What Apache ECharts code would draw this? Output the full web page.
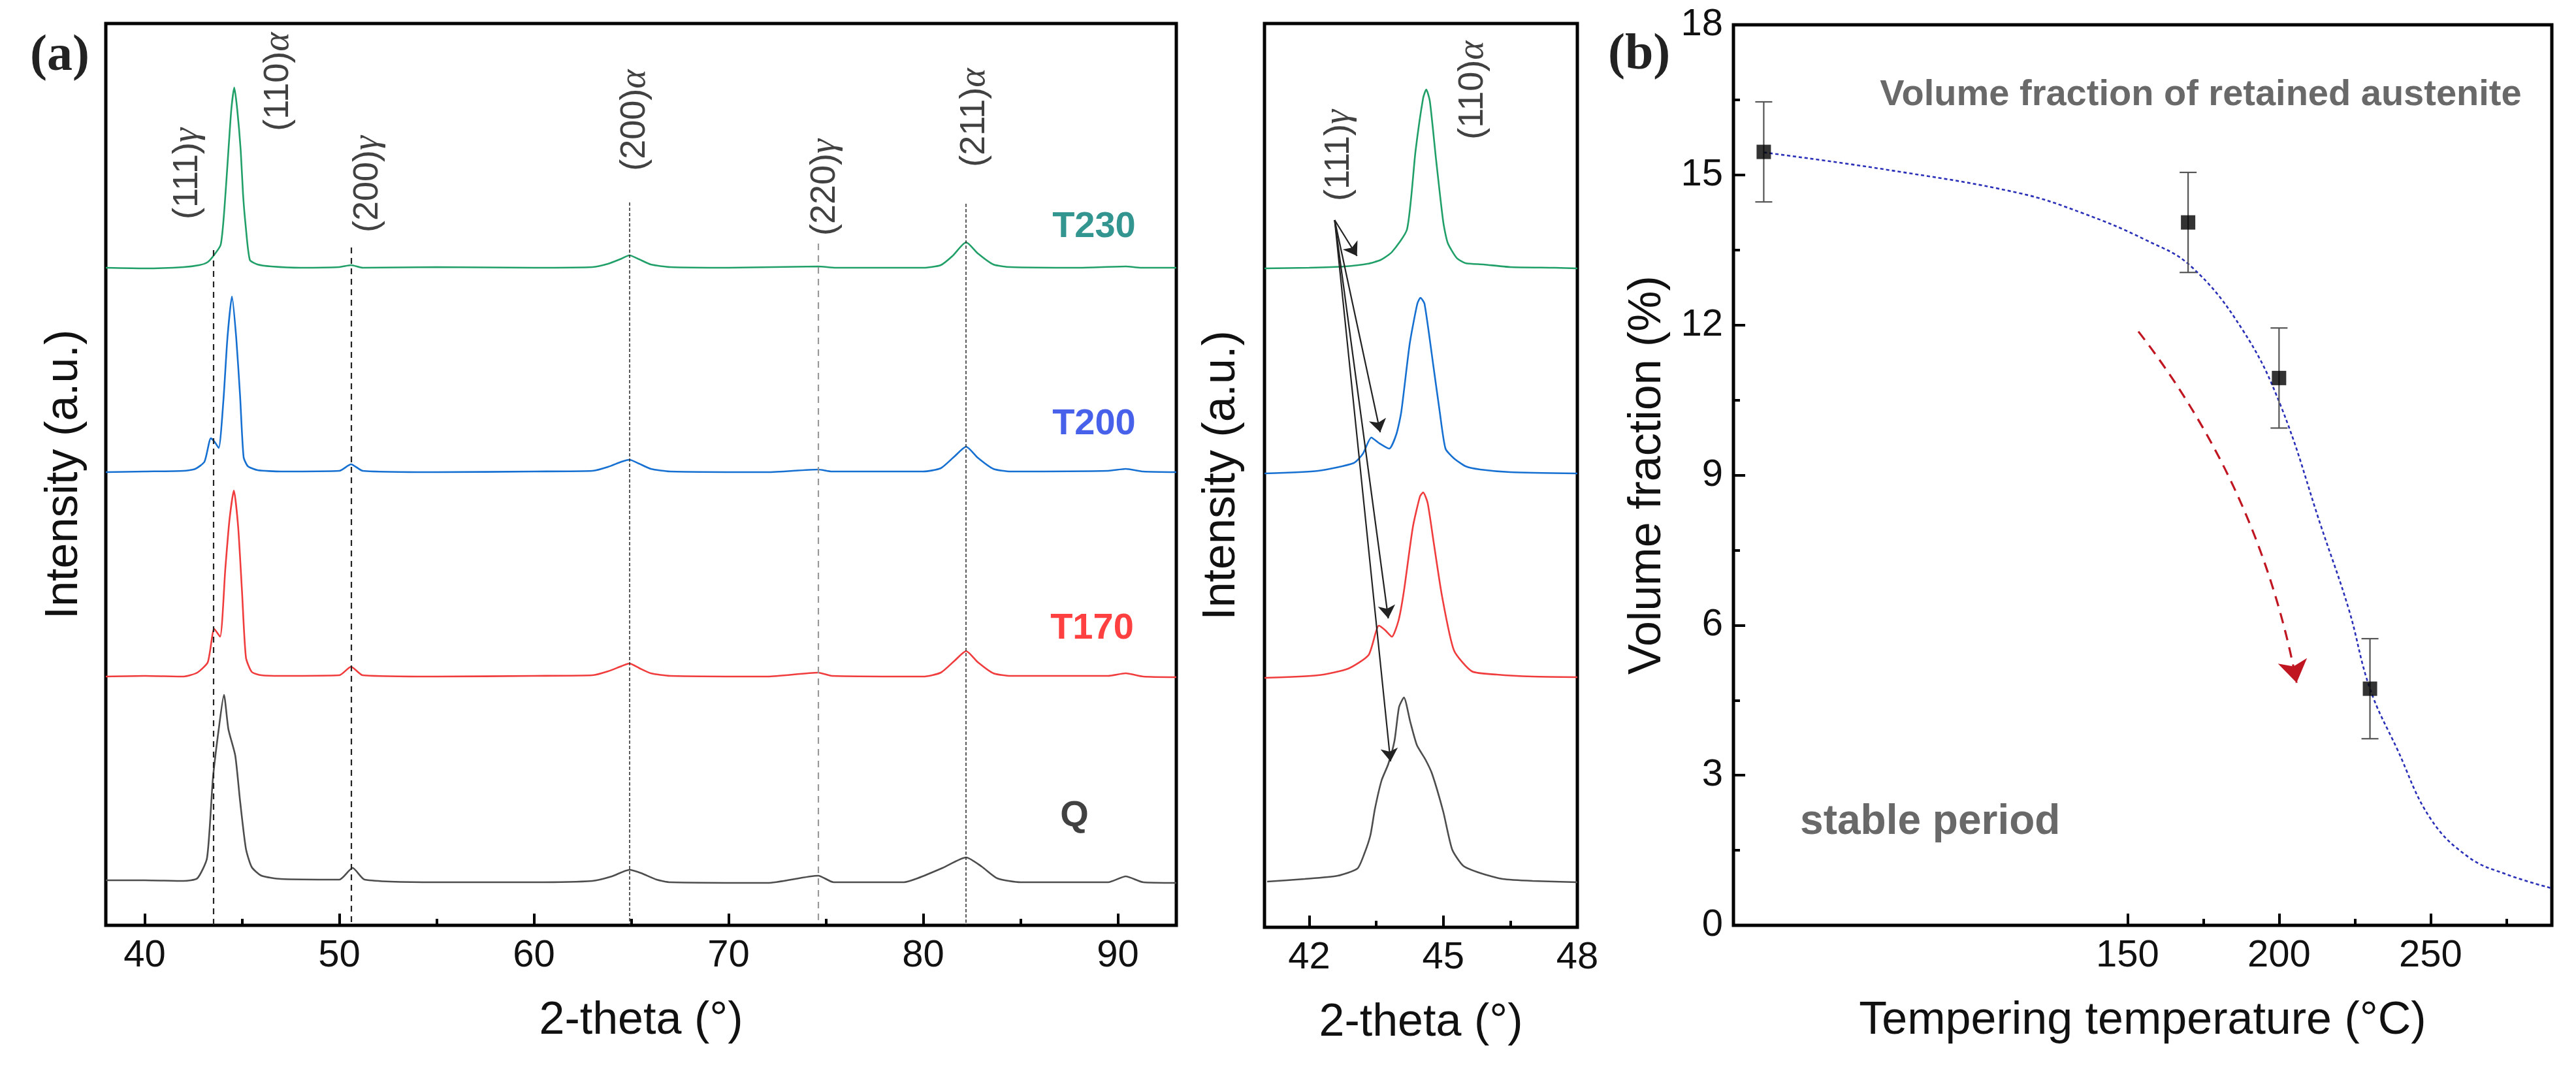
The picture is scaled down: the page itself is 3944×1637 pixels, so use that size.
<!DOCTYPE html>
<html>
<head>
<meta charset="utf-8">
<title>XRD and retained austenite</title>
<script src="https://cdn.jsdelivr.net/npm/echarts@6/dist/echarts.min.js"></script>
<style>
  html, body { margin: 0; padding: 0; background: #fff; }
  #chart { width: 3944px; height: 1637px; }
</style>
</head>
<body>
<div id="chart"></div>
<script>
// ---- Panel (a): full XRD patterns, stacked (2-theta, intensity a.u.) ----
const patternQ = [[38,69],[40,69],[42,68],[42.7,72],[43.2,103],[43.5,224],[43.8,300],[44.07,353],[44.3,300],[44.65,260],[44.9,190],[45.2,117],[45.5,89],[46,76],[47,71],[50,70],[50.68,88],[51.3,70],[55,66],[60,66],[63,68],[64,75],[64.9,85],[65.5,80],[66.3,70],[67,66],[72,65],[74.6,76],[75.4,66],[79,66],[79.7,72],[81,88],[82.2,104],[83,90],[83.8,72],[85,66],[89.5,66],[90.4,75],[91.3,66],[93,65]];
const patternT170 = [[38,381],[40,382],[42,381],[42.7,387],[43.24,403],[43.57,454],[43.87,442],[44.14,546],[44.35,620],[44.58,666],[44.8,610],[45.0,510],[45.2,410],[45.5,388],[46,383],[47,382],[50,383],[50.6,396],[51.2,383],[55,381],[60,382],[63,383],[63.8,389],[64.5,397],[64.9,401],[65.4,394],[66,386],[67,382],[72,381],[74.6,387],[75.3,382],[80,381],[80.9,387],[81.6,405],[82.2,420],[82.8,403],[83.6,386],[84.5,382],[89.5,382],[90.4,386],[91.3,381],[93,380]];
const patternT200 = [[38,694],[40,695],[42,696],[42.6,699],[43.07,710],[43.4,746],[43.6,740],[43.8,731],[44.04,803],[44.25,900],[44.48,963],[44.7,900],[44.9,810],[45.08,717],[45.3,703],[45.8,697],[47,695],[50,696],[50.6,706],[51.2,696],[55,694],[60,695],[63,696],[63.8,702],[64.5,710],[64.9,713],[65.4,707],[66,699],[67,695],[72,694],[74.6,698],[75.3,695],[80,695],[80.9,700],[81.6,718],[82.2,733],[82.8,716],[83.6,699],[84.5,695],[89.5,696],[90.4,699],[91.3,695],[93,694]];
const patternT230 = [[38,1007],[40,1006],[42,1008],[42.8,1011],[43.2,1015],[43.47,1023],[43.9,1042],[44.1,1100],[44.3,1187],[44.45,1250],[44.6,1283],[44.75,1250],[44.93,1187],[45.05,1120],[45.18,1073],[45.4,1019],[45.8,1012],[46.5,1009],[48,1007],[50,1008],[50.6,1011],[51.2,1007],[55,1008],[60,1007],[63,1008],[63.8,1013],[64.5,1021],[64.9,1026],[65.4,1020],[66,1012],[67,1008],[70,1007],[74.6,1009],[75.5,1007],[80,1007],[80.9,1011],[81.5,1025],[82.2,1046],[82.8,1029],[83.6,1012],[84.5,1008],[88,1007],[90.4,1009],[91.2,1007],[93,1007]];

// reflection positions (2-theta) and the intensity where their guide line starts
const peakPos = [43.54, 50.6, 64.9, 74.6, 82.2];
const peakLineTop = [1034, 1038, 1107, 1044, 1105];
const peakHkl = [
  { hkl: '(111)', phase: 'γ', x: 42.19, y: 1151 },
  { hkl: '(110)', phase: 'α', x: 46.86, y: 1292 },
  { hkl: '(200)', phase: 'γ', x: 51.46, y: 1135 },
  { hkl: '(200)', phase: 'α', x: 65.18, y: 1233 },
  { hkl: '(220)', phase: 'γ', x: 74.95, y: 1130 },
  { hkl: '(211)', phase: 'α', x: 82.63, y: 1237 }
];
const sampleNames = ['T230', 'T200', 'T170', 'Q'];
const sampleLabelAt = [[88.77, 1069], [88.77, 767], [88.67, 454], [87.77, 167]];
const sampleColors = ['#007a74', '#1a3ae6', '#ff1010', '#111111'];

// ---- Inset: 41-48 deg detail ----
const insetQ = [[41.06,70],[41.9,74],[42.64,79],[43.08,90],[43.23,112],[43.37,141],[43.47,181],[43.62,225],[43.77,250],[43.91,286],[44.01,337],[44.12,352],[44.26,315],[44.41,279],[44.6,257],[44.75,235],[45.0,177],[45.2,119],[45.45,94],[45.83,83],[46.33,74],[47,71],[48,69]];
const insetT170 = [[41,382],[42.2,386],[42.87,396],[43.33,417],[43.56,462],[43.7,455],[43.85,445],[44.0,470],[44.12,515],[44.32,613],[44.48,660],[44.55,666],[44.65,650],[44.78,592],[44.97,508],[45.24,424],[45.64,392],[46.2,387],[47,384],[48,383]];
const insetT200 = [[41,695],[42.2,699],[43.0,711],[43.2,725],[43.39,750],[43.55,742],[43.79,733],[43.95,755],[44.06,789],[44.25,894],[44.42,955],[44.49,964],[44.58,955],[44.78,859],[44.92,790],[45.05,733],[45.24,718],[45.5,706],[45.83,701],[46.5,697],[48,695]];
const insetT230 = [[41,1009],[42,1010],[42.8,1012],[43.3,1016],[43.6,1022],[43.85,1034],[44.19,1069],[44.38,1189],[44.55,1270],[44.62,1283],[44.7,1265],[44.84,1175],[45.0,1080],[45.1,1048],[45.3,1025],[45.5,1017],[45.9,1015],[46.5,1011],[47.5,1010],[48,1009]];
const insetArrowFrom = [42.57, 1083];
const insetArrowTo = [[43.07, 1028], [43.59, 758], [43.77, 473], [43.82, 254]];
const insetHkl = [
  { hkl: '(111)', phase: 'γ', x: 42.67, y: 1182 },
  { hkl: '(110)', phase: 'α', x: 45.67, y: 1282 }
];

// ---- Panel (b): retained austenite ----
const temperC = [30, 170, 200, 230];
const austenite = [15.46, 14.05, 10.94, 4.73];
const austeniteErr = [1.0, 1.0, 1.0, 1.0];
const fitTemp = [30, 71, 114, 135, 156, 171, 188, 200.6, 214, 223, 230, 239, 250, 262.6, 275, 290];
const fitValue = [15.45, 15.1, 14.64, 14.24, 13.7, 13.17, 11.9, 10.38, 7.95, 6.32, 4.73, 3.52, 2.13, 1.36, 1.02, 0.74];
const trendFrom = [153.6, 11.87];
const trendTo = [205.8, 4.85];

const SANS = 'Liberation Sans, Arial, sans-serif';
const SERIF = 'Liberation Serif, Times New Roman, serif';
const lineColors = { Q: '#4d4d4d', T170: '#f03c3c', T200: '#1670d2', T230: '#20a068' };

const chart = echarts.init(document.getElementById('chart'), null, { renderer: 'canvas' });

function xrdLine(name, data, xi, yi) {
  return {
    type: 'line', name: name, xAxisIndex: xi, yAxisIndex: yi, data: data,
    symbol: 'none', smooth: 0.2, z: 3,
    lineStyle: { color: lineColors[name], width: 2.6 }
  };
}

function hklLabels(list, xi, yi) {
  return {
    type: 'scatter', xAxisIndex: xi, yAxisIndex: yi, symbolSize: 0, silent: true, z: 5,
    data: list.map(d => ({ value: [d.x, d.y], hkl: d.hkl, phase: d.phase })),
    label: {
      show: true, position: 'inside', rotate: 90,
      formatter: p => '{n|' + p.data.hkl + '}{g|' + p.data.phase + '}',
      rich: {
        n: { fontFamily: SANS, fontSize: 54, color: '#111' },
        g: { fontFamily: SERIF, fontStyle: 'italic', fontSize: 56, color: '#111' }
      }
    }
  };
}

const guideStyles = [
  { color: '#222', width: 2.2, type: [9, 7] },
  { color: '#222', width: 2.2, type: [9, 7] },
  { color: '#333', width: 1.6, type: [5, 3] },
  { color: '#999', width: 2.2, type: [10, 8] },
  { color: '#333', width: 1.6, type: [5, 3] }
];

const hiddenY = (grid, name, gap) => ({
  type: 'value', gridIndex: grid, min: 0, max: grid === 1 ? 1384 : 1381,
  name: name, nameLocation: 'middle', nameGap: gap, nameRotate: 90,
  nameTextStyle: { fontFamily: SANS, fontSize: 70, color: '#111' },
  axisLine: { show: false }, axisTick: { show: false }, axisLabel: { show: false }, splitLine: { show: false }
});

const majorX = (grid, min, max, ticks, name) => ({
  type: 'value', gridIndex: grid, min: min, max: max, position: 'bottom',
  name: name, nameLocation: 'middle', nameGap: 112,
  nameTextStyle: { fontFamily: SANS, fontSize: 70, color: '#111' },
  axisLine: { show: false },
  axisTick: { show: true, inside: true, length: 18, customValues: ticks, lineStyle: { color: '#000', width: 4 } },
  axisLabel: { show: true, customValues: ticks, margin: 18, fontFamily: SANS, fontSize: 58, color: '#111' },
  splitLine: { show: false }
});

const minorX = (grid, min, max, ticks) => ({
  type: 'value', gridIndex: grid, min: min, max: max, position: 'bottom',
  axisLine: { show: false },
  axisTick: { show: true, inside: true, length: 10, customValues: ticks, lineStyle: { color: '#000', width: 4 } },
  axisLabel: { show: false }, splitLine: { show: false }
});

const frame = { show: true, borderColor: '#000', borderWidth: 5, backgroundColor: 'transparent' };

const option = {
  backgroundColor: '#fff',
  animation: false,
  grid: [
    Object.assign({ left: 162, top: 36, width: 1639, height: 1381 }, frame),
    Object.assign({ left: 1936, top: 36, width: 479, height: 1384 }, frame),
    Object.assign({ left: 2654, top: 38, width: 1253, height: 1379 }, frame)
  ],
  xAxis: [
    majorX(0, 38, 93, [40, 50, 60, 70, 80, 90], '2-theta (°)'),
    minorX(0, 38, 93, [45, 55, 65, 75, 85]),
    majorX(1, 41, 48, [42, 45, 48], '2-theta (°)'),
    minorX(1, 41, 48, [43.5, 46.5]),
    majorX(2, 20, 290, [150, 200, 250], 'Tempering temperature (°C)'),
    minorX(2, 20, 290, [175, 225, 275])
  ],
  yAxis: [
    hiddenY(0, 'Intensity (a.u.)', 28),
    hiddenY(1, 'Intensity (a.u.)', 30),
    {
      type: 'value', gridIndex: 2, min: 0, max: 18, interval: 3,
      name: 'Volume fraction (%)', nameLocation: 'middle', nameGap: 96, nameRotate: 90,
      nameTextStyle: { fontFamily: SANS, fontSize: 70, color: '#111' },
      axisLine: { show: false },
      axisTick: { show: true, inside: true, length: 18, lineStyle: { color: '#000', width: 4 } },
      minorTick: { show: true, splitNumber: 2, length: 10, lineStyle: { color: '#000', width: 4 } },
      axisLabel: { margin: 16, fontFamily: SANS, fontSize: 58, color: '#111' },
      splitLine: { show: false }
    }
  ],
  graphic: [
    { type: 'text', left: 46, top: 48, style: { text: '(a)', font: 'bold 78px ' + SERIF, fill: '#222' } },
    { type: 'text', left: 2462, top: 46, style: { text: '(b)', font: 'bold 78px ' + SERIF, fill: '#222' } }
  ],
  series: [
    // panel (a)
    Object.assign(xrdLine('Q', patternQ, 0, 0), {
      markLine: {
        silent: true, symbol: 'none', label: { show: false },
        data: peakPos.map((x, i) => [
          { coord: [x, peakLineTop[i]], lineStyle: guideStyles[i] },
          { coord: [x, 0] }
        ])
      }
    }),
    xrdLine('T170', patternT170, 0, 0),
    xrdLine('T200', patternT200, 0, 0),
    xrdLine('T230', patternT230, 0, 0),
    hklLabels(peakHkl, 0, 0),
    {
      type: 'scatter', xAxisIndex: 0, yAxisIndex: 0, symbolSize: 0, silent: true, z: 5,
      data: sampleNames.map((n, i) => ({ name: n, value: sampleLabelAt[i], label: { color: sampleColors[i] } })),
      label: { show: true, position: 'inside', formatter: '{b}', fontFamily: SANS, fontWeight: 'bold', fontSize: 56 }
    },
    // inset
    xrdLine('Q', insetQ, 2, 1),
    xrdLine('T170', insetT170, 2, 1),
    xrdLine('T200', insetT200, 2, 1),
    xrdLine('T230', insetT230, 2, 1),
    hklLabels(insetHkl, 2, 1),
    {
      type: 'lines', coordinateSystem: 'cartesian2d', xAxisIndex: 2, yAxisIndex: 1, z: 6, silent: true,
      symbol: ['none', 'arrow'], symbolSize: [0, 20],
      lineStyle: { color: '#222', width: 2.2, opacity: 1 },
      data: insetArrowTo.map(t => ({ coords: [insetArrowFrom, t] }))
    },
    // panel (b)
    {
      type: 'line', xAxisIndex: 4, yAxisIndex: 2, data: fitTemp.map((t, i) => [t, fitValue[i]]),
      symbol: 'none', smooth: 0.4, z: 3,
      lineStyle: { color: '#2a2fb8', width: 2.6, type: [5, 4] }
    },
    {
      type: 'lines', coordinateSystem: 'cartesian2d', xAxisIndex: 4, yAxisIndex: 2, z: 4, silent: true,
      symbol: ['none', 'arrow'], symbolSize: [0, 34],
      lineStyle: { color: '#c01622', width: 3.2, type: [16, 11], opacity: 1, curveness: 0.12 },
      itemStyle: { color: '#e01010' },
      data: [{ coords: [trendFrom, trendTo] }]
    },
    {
      type: 'custom', xAxisIndex: 4, yAxisIndex: 2, z: 4, silent: true,
      data: temperC.map((t, i) => [t, austenite[i] - austeniteErr[i], austenite[i] + austeniteErr[i]]),
      renderItem: (params, api) => {
        const lo = api.coord([api.value(0), api.value(1)]);
        const hi = api.coord([api.value(0), api.value(2)]);
        const w = 13;
        const st = { stroke: '#555', lineWidth: 2.2 };
        return {
          type: 'group', children: [
            { type: 'line', shape: { x1: hi[0], y1: hi[1], x2: lo[0], y2: lo[1] }, style: st },
            { type: 'line', shape: { x1: hi[0] - w, y1: hi[1], x2: hi[0] + w, y2: hi[1] }, style: st },
            { type: 'line', shape: { x1: lo[0] - w, y1: lo[1], x2: lo[0] + w, y2: lo[1] }, style: st }
          ]
        };
      }
    },
    {
      type: 'scatter', xAxisIndex: 4, yAxisIndex: 2, z: 5,
      data: temperC.map((t, i) => [t, austenite[i]]),
      symbol: 'rect', symbolSize: 22, itemStyle: { color: '#000' }
    },
    {
      type: 'scatter', xAxisIndex: 4, yAxisIndex: 2, symbolSize: 0, silent: true, z: 5,
      data: [
        { value: [280, 16.6], name: 'Volume fraction of retained austenite', label: { position: 'left', fontSize: 56 } },
        { value: [42, 2.06], name: 'stable period', label: { position: 'right', fontSize: 64 } }
      ],
      label: { show: true, formatter: '{b}', fontFamily: SANS, fontWeight: 'bold', color: '#444', distance: 0 }
    }
  ]
};

chart.setOption(option);
</script>
</body>
</html>
